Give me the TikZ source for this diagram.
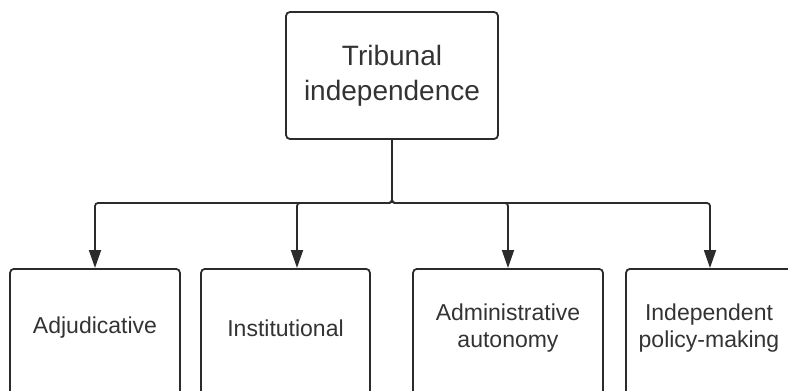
\documentclass[tikz,border=0pt]{standalone}
\usepackage{fontspec}
\setmainfont{Liberation Sans}
\usetikzlibrary{arrows.meta,positioning}
\definecolor{inkline}{HTML}{2B2B2B}
\definecolor{inktext}{HTML}{333333}
\tikzset{root box/.style={
    draw=inkline, line width=1.8pt, rounded corners=4pt,
    minimum width=212pt, minimum height=127pt,
    align=center, text=inktext,
    font=\fontsize{28}{35}\selectfont
  },
  branch box/.style={
    draw=inkline, line width=1.8pt, rounded corners=4pt,
    anchor=north, minimum height=160pt, inner sep=0pt,
    minimum width=#1
  },
  branch box/.default=170pt,
  branch text/.style={
    align=center, text=inktext,
    font=\fontsize{23}{27}\selectfont
  },
  link/.style={
    draw=inkline, line width=1.8pt, rounded corners=3pt,
    -{Triangle[length=18pt,width=12pt]}
  }
}
\begin{document}
\begin{tikzpicture}[x=1pt,y=-1pt]
  \useasboundingbox (0,0) rectangle (788,391);
  \node[root box] (Root) at (392,75.5) {Tribunal\\independence};
  % the four branches
  \node[branch box=170pt] (Adj) at (95,268) {};
  \node[branch box=169pt] (Inst) at (285.5,268) {};
  \node[branch box=190pt] (Admin) at (508,268) {};
  \node[branch box=166pt] (Policy) at (709,268) {};
  \node[branch text] (AdjText) at (95,328) {Adjudicative};
  \node[branch text] (InstText) at (285.5,328) {Institutional};
  \node[branch text] (AdminText) at (508,328) {Administrative\\autonomy};
  \node[branch text] (PolicyText) at (709,328) {Independent\\policy-making};
  \coordinate (Bus) at (392,203);
  \draw[link] (Root.south) -- (Bus) -| (Adj.north);
  \draw[link] (Root.south) -- (Bus) -| ([xshift=11.5pt]Inst.north);
  \draw[link] (Root.south) -- (Bus) -| (Admin.north);
  \draw[link] (Root.south) -- (Bus) -| ([xshift=1pt]Policy.north);
\end{tikzpicture}
\end{document}
